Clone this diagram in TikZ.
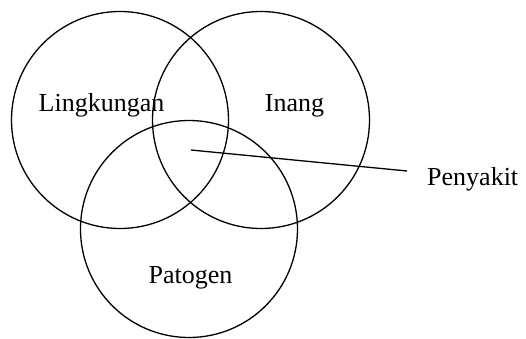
\documentclass[tikz,border=0pt]{standalone}
\usepackage{fontspec}
\setmainfont{Liberation Serif}
\begin{document}
\begin{tikzpicture}[x=1pt,y=-1pt,
  ring/.style={draw=black,line width=1.3pt,circle,minimum size=217pt,inner sep=0pt},
  lbl/.style={font=\fontsize{26}{30}\selectfont,inner sep=0pt,anchor=base}]
\useasboundingbox (0,0) rectangle (526,339);
\node[ring] (env) at (120,120) {};
\node[ring] (host) at (261,120) {};
\node[ring] (pat) at (189,229) {};
\node[lbl] (tenv) at (101.5,112) {Lingkungan};
\node[lbl] (thost) at (294.5,112) {Inang};
\node[lbl] (tpat) at (190.5,283) {Patogen};
\node[lbl,anchor=base west] (tdis) at (427,185) {Penyakit};
\coordinate (c) at (191,150);
\coordinate (e) at (407,171);
\draw[line width=1.3pt] (c) -- (e);
\end{tikzpicture}
\end{document}
